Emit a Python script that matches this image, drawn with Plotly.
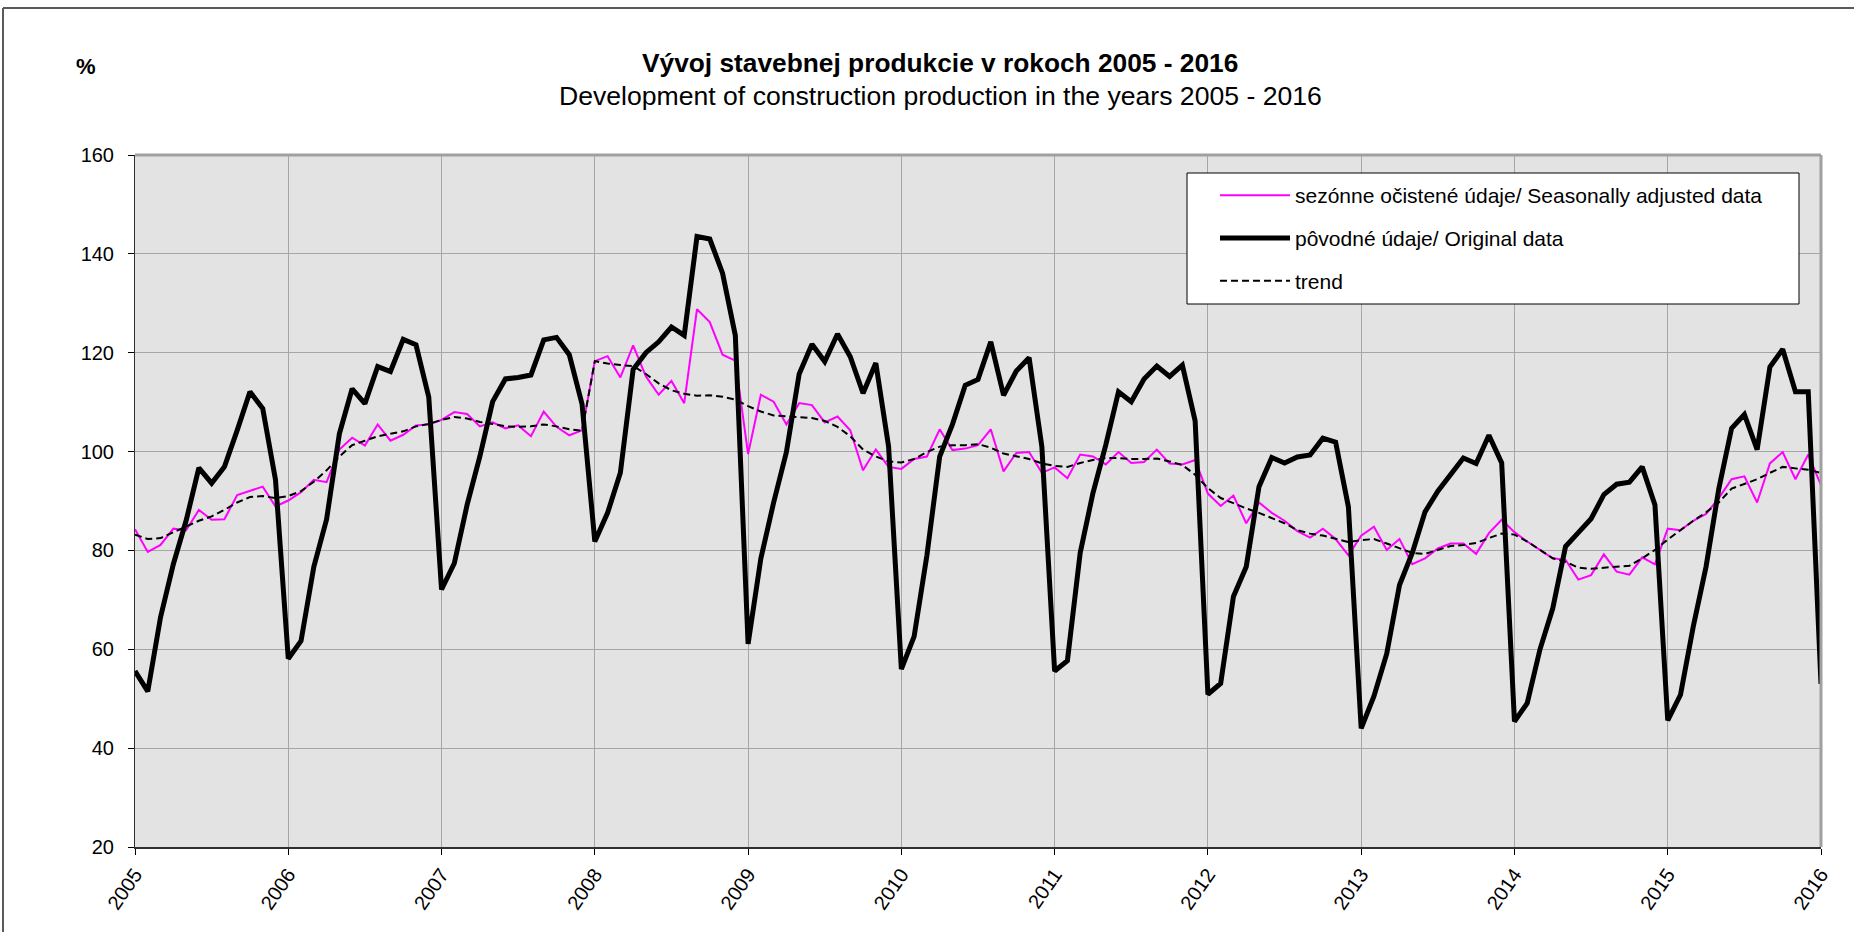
import plotly.graph_objects as go

years = ["2005", "2006", "2007", "2008", "2009", "2010", "2011", "2012",
         "2013", "2014", "2015", "2016"]

original = [
    55.6, 51.5, 66.5, 77.2, 86.0, 96.7, 93.6, 96.9, 104.3, 112.1, 108.7, 94.3,
    58.1, 61.7, 76.7, 86.3, 103.6, 112.7, 109.7, 117.2, 116.2, 122.7, 121.6, 111.0,
    72.1, 77.4, 89.2, 99.0, 110.1, 114.7, 115.0, 115.5, 122.6, 123.1, 119.6, 109.6,
    81.8, 87.6, 95.7, 116.6, 120.0, 122.2, 125.2, 123.5, 143.5, 143.0, 136.1, 123.5,
    61.1, 78.4, 89.7, 99.9, 115.7, 121.7, 118.2, 123.8, 119.2, 111.8, 117.9, 101.0,
    56.0, 62.6, 79.0, 99.0, 105.5, 113.4, 114.6, 122.2, 111.4, 116.3, 119.0, 101.0,
    55.6, 57.7, 79.5, 91.6, 101.3, 112.1, 110.1, 114.7, 117.3, 115.2, 117.5, 106.2,
    50.9, 53.1, 70.7, 76.7, 92.9, 98.8, 97.7, 98.9, 99.3, 102.7, 101.9, 88.8,
    44.0, 50.5, 59.1, 73.0, 79.5, 87.8, 92.0, 95.2, 98.7, 97.6, 103.3, 97.7,
    45.4, 49.1, 60.0, 68.3, 80.8, 83.6, 86.4, 91.3, 93.4, 93.8, 96.9, 89.2,
    45.6, 50.8, 64.6, 76.7, 92.5, 104.7, 107.5, 100.4, 117.1, 120.7, 112.1, 112.1,
    53.0,
]

seasonally_adjusted = [
    84.3, 79.7, 81.1, 84.4, 84.1, 88.2, 86.2, 86.3, 91.2, 92.0, 92.9, 88.9,
    90.1, 91.8, 94.3, 93.8, 100.4, 102.8, 101.2, 105.5, 102.2, 103.4, 105.3, 105.5,
    106.4, 108.0, 107.6, 105.1, 105.9, 104.7, 105.3, 103.1, 108.1, 105.0, 103.3, 104.3,
    118.3, 119.3, 115.0, 121.5, 115.2, 111.5, 114.3, 109.8, 128.8, 126.2, 119.6, 118.4,
    99.5, 111.5, 110.1, 105.5, 109.8, 109.4, 105.9, 107.1, 104.3, 96.2, 100.4, 96.9,
    96.5, 98.5, 99.0, 104.5, 100.3, 100.6, 101.3, 104.5, 96.0, 99.7, 99.9, 95.7,
    96.8, 94.6, 99.4, 99.0, 97.4, 99.9, 97.7, 97.9, 100.4, 97.6, 97.4, 98.3,
    91.5, 89.0, 91.1, 85.5, 89.7, 87.6, 86.0, 83.9, 82.6, 84.4, 82.3, 79.0,
    83.0, 84.8, 80.1, 82.3, 77.2, 78.4, 80.4, 81.4, 81.4, 79.3, 83.5, 86.2,
    83.7, 81.8, 80.1, 78.4, 78.1, 74.1, 75.0, 79.2, 75.7, 75.1, 78.6, 77.2,
    84.4, 84.1, 86.0, 87.4, 90.6, 94.4, 95.0, 89.7, 97.6, 99.9, 94.4, 99.4,
    93.2,
]

trend = [
    83.2, 82.3, 82.5, 83.7, 84.8, 86.0, 86.9, 88.2, 89.7, 90.8, 91.0, 90.6,
    91.0, 92.0, 93.9, 96.2, 99.0, 101.3, 102.2, 103.1, 103.6, 104.1, 105.1, 105.6,
    106.4, 107.0, 106.7, 106.0, 105.6, 105.1, 105.0, 105.1, 105.5, 105.1, 104.5, 104.2,
    118.3, 117.8, 117.5, 117.3, 115.7, 113.8, 112.4, 111.7, 111.3, 111.4, 111.1, 110.5,
    109.2, 108.1, 107.3, 107.1, 107.0, 106.8, 106.2, 105.0, 103.1, 100.4, 99.0, 98.0,
    97.8, 98.5, 99.9, 101.0, 101.3, 101.3, 101.5, 100.8, 99.6, 99.0, 98.5, 97.6,
    97.1, 96.9, 97.7, 98.3, 98.7, 98.7, 98.5, 98.5, 98.6, 98.0, 97.3, 95.3,
    92.6, 90.6, 89.5, 88.5, 87.6, 86.6, 85.5, 84.1, 83.4, 83.0, 82.3, 81.7,
    82.1, 82.3, 81.4, 80.4, 79.5, 79.3, 80.1, 80.9, 81.1, 81.5, 82.5, 83.4,
    83.2, 81.8, 80.1, 78.4, 77.7, 76.5, 76.3, 76.5, 76.7, 76.9, 78.4, 80.1,
    82.2, 84.1, 86.0, 87.7, 89.7, 92.5, 93.4, 94.4, 95.7, 96.9, 96.6, 96.3,
    95.7,
]

months = list(range(len(original)))
tick_positions = [12 * i for i in range(len(years))]

FONT = "Liberation Sans, Arial, sans-serif"

# layout geometry (page pixels)
W, H = 1854, 932
L, R, T, B = 135, 33, 155, 85
PW, PH = W - L - R, H - T - B


def px(xp):
    return (xp - L) / PW


def py(yp):
    return (H - B - yp) / PH


fig = go.Figure()
fig.add_trace(go.Scatter(
    x=months, y=seasonally_adjusted, mode="lines",
    name="sezónne očistené údaje/ Seasonally adjusted data",
    line=dict(color="#FF00FF", width=2), legendgroup="a"))
fig.add_trace(go.Scatter(
    x=months, y=original, mode="lines",
    name="pôvodné údaje/ Original data",
    line=dict(color="#000000", width=5), legendgroup="b"))
fig.add_trace(go.Scatter(
    x=months, y=trend, mode="lines",
    name="trend",
    line=dict(color="#000000", width=2, dash="7px,4px"), legendgroup="c"))

fig.update_layout(
    width=W, height=H,
    margin=dict(l=L, r=R, t=T, b=B),
    paper_bgcolor="white",
    plot_bgcolor="#E3E3E3",
    font=dict(family=FONT, color="black"),
    showlegend=True,
    legend=dict(
        x=px(1215), y=py(175), xanchor="left", yanchor="top",
        bgcolor="rgba(0,0,0,0)", borderwidth=0,
        font=dict(size=21, family=FONT),
        itemwidth=70,
        traceorder="grouped", tracegroupgap=12.5,
    ),
    xaxis=dict(
        range=[0, len(original) - 1],
        tickmode="array", tickvals=tick_positions, ticktext=years,
        tickangle=-55, tickfont=dict(size=20, family=FONT),
        showgrid=True, gridcolor="#A6A6A6", gridwidth=1,
        ticks="outside", ticklen=6, tickcolor="black",
        showline=True, linecolor="#303030", linewidth=2,
        zeroline=False, automargin=False,
    ),
    yaxis=dict(
        range=[20, 160], dtick=20, tick0=20,
        tickfont=dict(size=20, family=FONT),
        showgrid=True, gridcolor="#A6A6A6", gridwidth=1,
        ticks="outside", ticklen=6, tickcolor="black",
        ticklabelstandoff=10,
        showline=True, linecolor="#303030", linewidth=1,
        zeroline=False, automargin=False,
    ),
    annotations=[
        dict(text="<b>Vývoj stavebnej produkcie v rokoch 2005 - 2016</b>",
             xref="paper", yref="paper", x=px(940), y=py(63),
             xanchor="center", yanchor="middle", showarrow=False,
             font=dict(size=26.3, family=FONT)),
        dict(text="Development of construction production in the years 2005 - 2016",
             xref="paper", yref="paper", x=px(940), y=py(96),
             xanchor="center", yanchor="middle", showarrow=False,
             font=dict(size=26.6, family=FONT)),
        dict(text="<b>%</b>",
             xref="paper", yref="paper", x=px(86), y=py(67),
             xanchor="center", yanchor="middle", showarrow=False,
             font=dict(size=22, family=FONT)),
    ],
    shapes=[
        # outer chart border
        dict(type="line", xref="paper", yref="paper",
             x0=px(3), x1=px(1900), y0=py(8), y1=py(8),
             line=dict(color="#5A5A5A", width=2)),
        dict(type="line", xref="paper", yref="paper",
             x0=px(3), x1=px(3), y0=py(8), y1=py(1000),
             line=dict(color="#5A5A5A", width=2)),
        # plot frame top / right
        dict(type="line", xref="paper", yref="paper",
             x0=0, x1=1, y0=1, y1=1, line=dict(color="#A0A0A0", width=3)),
        dict(type="line", xref="paper", yref="paper",
             x0=1, x1=1, y0=0, y1=1, line=dict(color="#A0A0A0", width=3)),
        # legend box
        dict(type="rect", xref="paper", yref="paper", layer="above",
             x0=px(1187), x1=px(1799), y0=py(173), y1=py(304),
             fillcolor="white", line=dict(color="black", width=1)),
    ],
)

fig.write_html("out.html", config={"displayModeBar": False},
               post_script="document.body.style.margin='0px';")
